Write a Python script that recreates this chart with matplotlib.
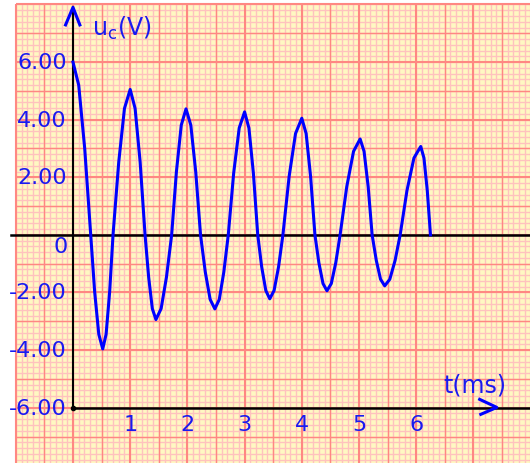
import numpy as np
import matplotlib
matplotlib.use("Agg")
import matplotlib.pyplot as plt
from matplotlib.patches import Rectangle

# capacitor voltage (t in ms, u in V)
t_ms = [0.0, 0.10, 0.205, 0.31,
        0.379, 0.451, 0.52, 0.579, 0.641, 0.70,
        0.80, 0.90, 1.0, 1.086, 1.174, 1.26,
        1.323, 1.387, 1.45, 1.541, 1.634, 1.725,
        1.808, 1.893, 1.976, 2.06, 2.146, 2.23,
        2.313, 2.398, 2.48, 2.558, 2.637, 2.715,
        2.809, 2.906, 3.0, 3.076, 3.154, 3.23,
        3.299, 3.371, 3.44, 3.516, 3.594, 3.67,
        3.779, 3.891, 4.0, 4.076, 4.154, 4.23,
        4.299, 4.371, 4.44, 4.516, 4.594, 4.67,
        4.786, 4.905, 5.02, 5.089, 5.161, 5.23,
        5.303, 5.377, 5.45, 5.539, 5.631, 5.72,
        5.839, 5.961, 6.08, 6.136, 6.194, 6.25]
u_volts = [6.0, 5.2, 3.0, 0.0,
           -1.98, -3.45, -3.96, -3.45, -1.98, 0.0,
           2.53, 4.39, 5.05, 4.39, 2.53, 0.0,
           -1.47, -2.56, -2.94, -2.56, -1.47, 0.0,
           2.19, 3.81, 4.375, 3.81, 2.19, 0.0,
           -1.29, -2.24, -2.57, -2.24, -1.29, 0.0,
           2.14, 3.71, 4.27, 3.71, 2.14, 0.0,
           -1.11, -1.93, -2.22, -1.93, -1.11, 0.0,
           2.03, 3.52, 4.05, 3.52, 2.03, 0.0,
           -0.97, -1.69, -1.94, -1.69, -0.97, 0.0,
           1.67, 2.90, 3.33, 2.90, 1.67, 0.0,
           -0.89, -1.54, -1.77, -1.54, -0.89, 0.0,
           1.54, 2.67, 3.07, 2.67, 1.54, 0.0]

x_ticks = [1, 2, 3, 4, 5, 6]
y_ticks = [6, 4, 2, -2, -4, -6]
y_tick_labels = ["6.00", "4.00", "2.00", "-2.00", "-4.00", "-6.00"]

BLUE = "#0000FF"
TXT = "#1A1AF0"

fig = plt.figure(figsize=(5.3, 4.64), dpi=100)
ax = fig.add_axes([0, 0, 1, 1])
ax.set_xlim(-1.276, 7.99)
ax.set_ylim(-7.92, 8.19)
ax.axis("off")

# graph paper
ax.add_patch(Rectangle((-1, -8), 9, 16, facecolor="#FFF8C2", edgecolor="none", zorder=0))
for x in np.arange(-1, 8.001, 0.1):
    ax.vlines(x, -8, 8, color="#FFC2BE", lw=1.0, zorder=1)
for y in np.arange(-8, 8.001, 0.2):
    ax.hlines(y, -1, 8, color="#FFC2BE", lw=1.0, zorder=1)
for x in np.arange(-1, 8.001, 0.5):
    w = 1.5 if abs(x - round(x)) < 1e-6 else 1.0
    ax.vlines(x, -8, 8, color="#FF8882", lw=w, zorder=2)
for y in np.arange(-8, 8.001, 1.0):
    w = 1.5 if int(round(y)) % 2 == 0 else 1.0
    ax.hlines(y, -1, 8, color="#FF8882", lw=w, zorder=2)

# axes
ax.plot([0, 0], [-6, 7.9], color="black", lw=1.5, zorder=3)
ax.plot([-1.08, 8], [0, 0], color="black", lw=1.8, zorder=3)
ax.plot([0, 8], [-6, -6], color="black", lw=1.8, zorder=3)
ax.plot([0], [-6], "o", color="black", ms=3, zorder=3)

# arrow heads
ax.plot([-0.13, 0, 0.12], [7.29, 7.9, 7.29], color=BLUE, lw=2.2, zorder=4)
ax.plot([7.11, 7.41, 7.13], [-5.71, -5.99, -6.23], color=BLUE, lw=2.2, zorder=4)

# curve
ax.plot(t_ms, u_volts, color=BLUE, lw=2.2, zorder=5)

# labels
for v, s in zip(y_ticks, y_tick_labels):
    ax.text(-0.11, v, s, color=TXT, fontsize=16, ha="right", va="center", zorder=6)
ax.text(-0.21, -0.4, "0", color=TXT, fontsize=16, ha="center", va="center", zorder=6)
for v in x_ticks:
    ax.text(v, -6.55, str(v), color=TXT, fontsize=16, ha="center", va="center", zorder=6)
ax.text(0.33, 7.22, r"$\mathregular{u_c}$(V)", color=TXT, fontsize=17, ha="left", va="center", zorder=6)
ax.text(7.03, -5.2, "t(ms)", color=TXT, fontsize=17, ha="center", va="center", zorder=6)

fig.savefig("out.png", dpi=100)
